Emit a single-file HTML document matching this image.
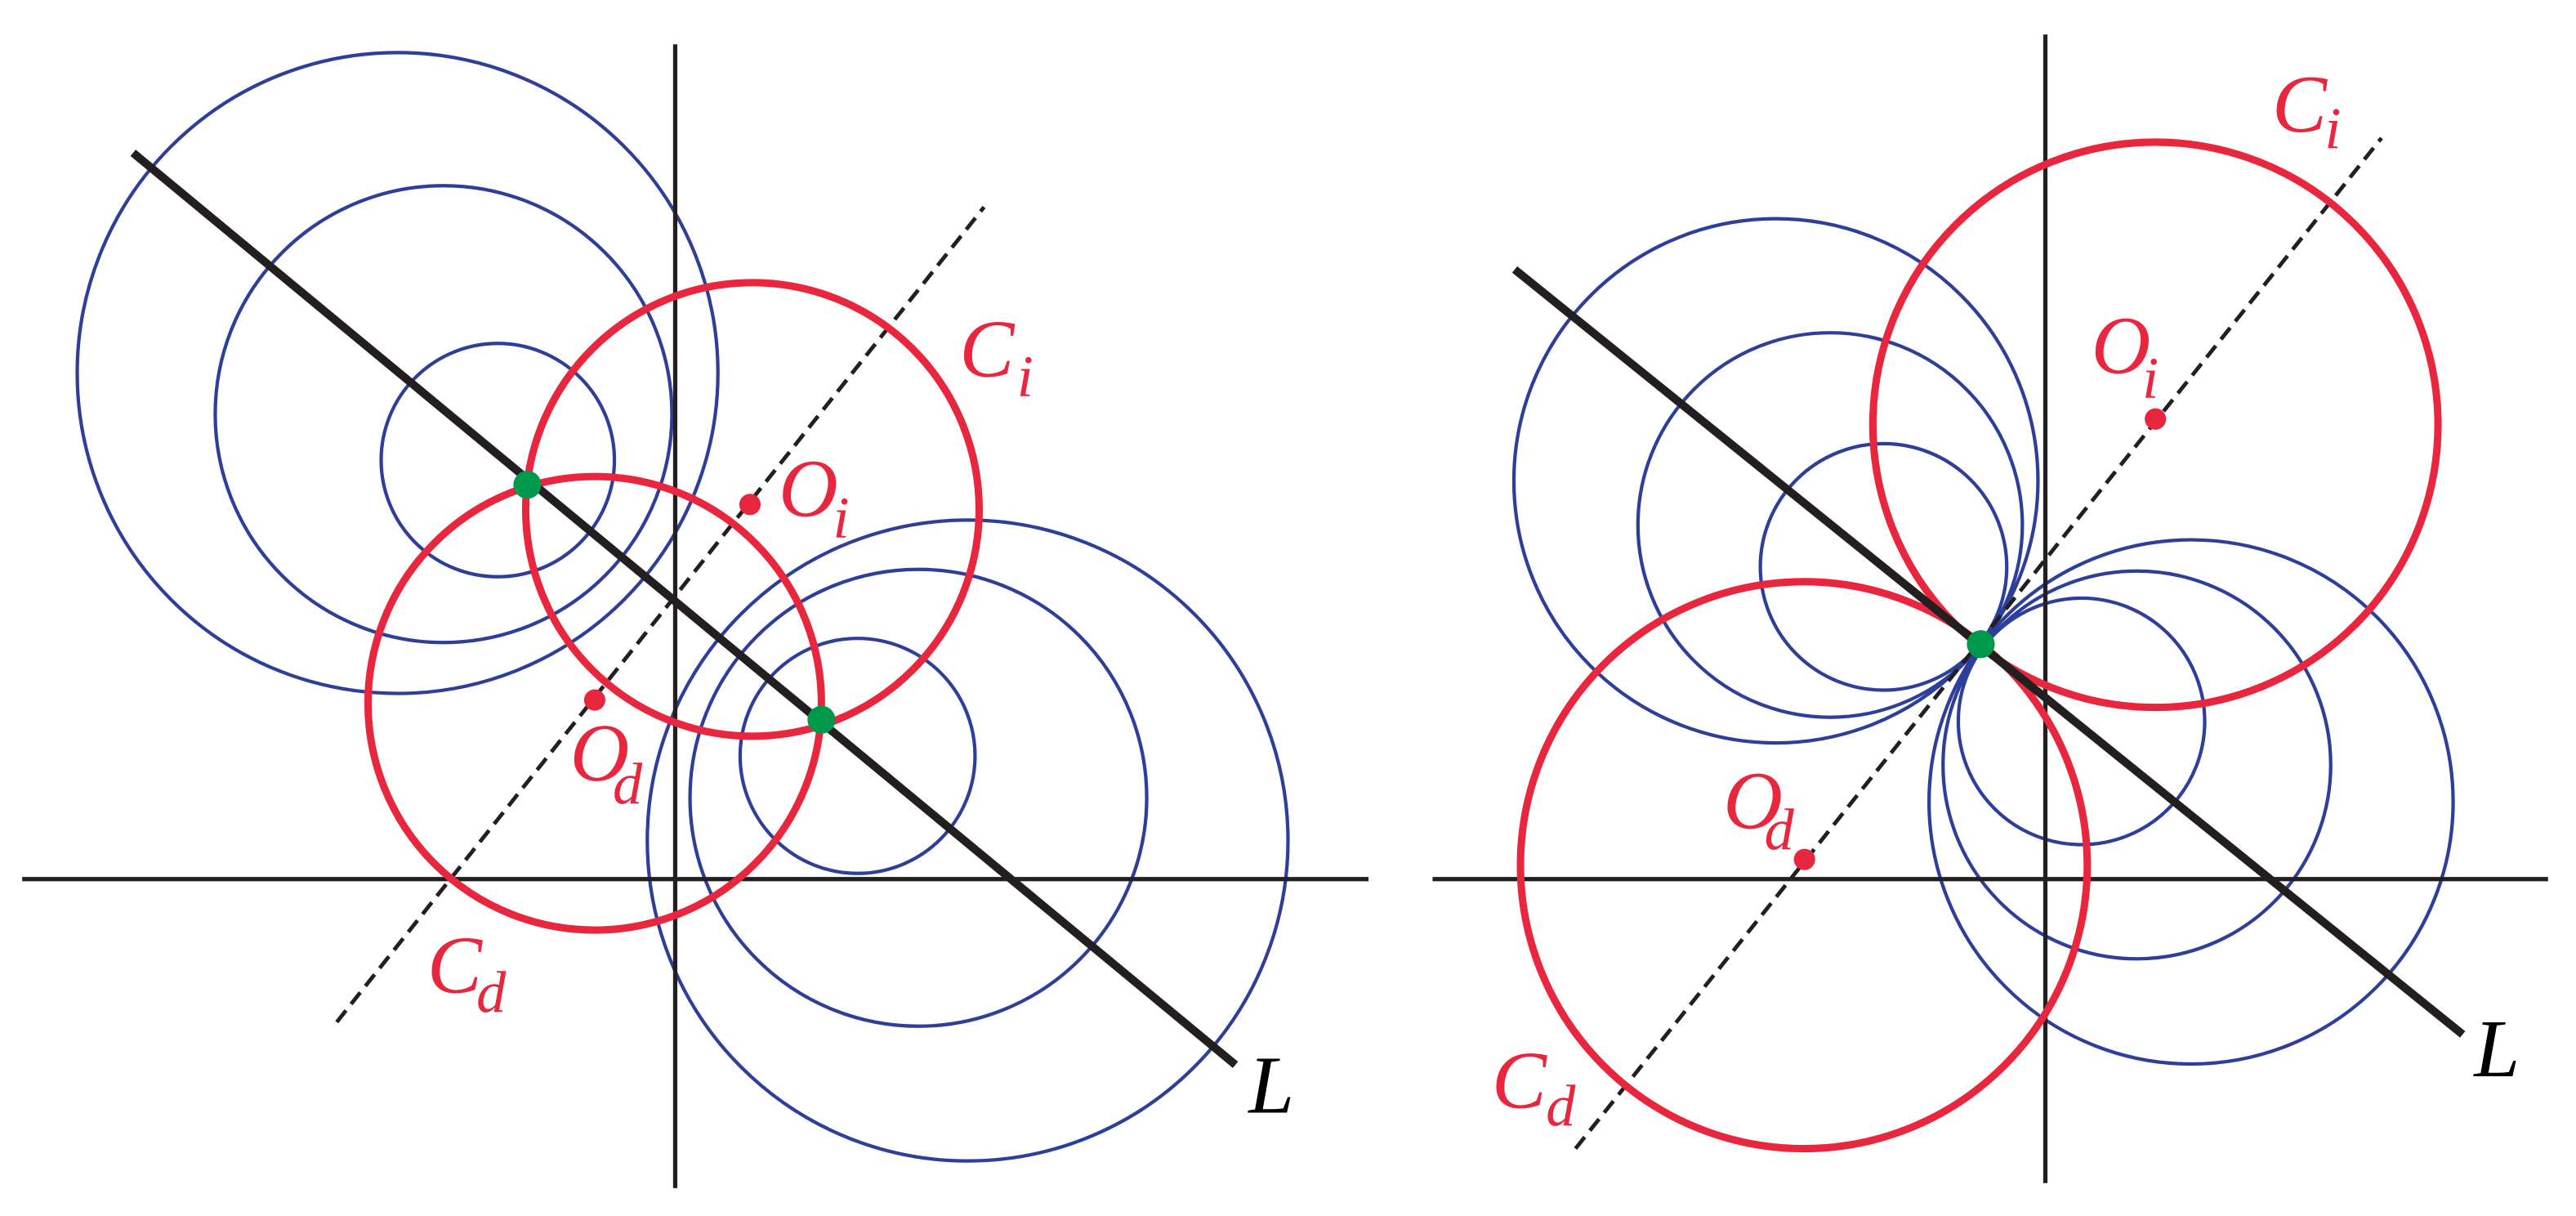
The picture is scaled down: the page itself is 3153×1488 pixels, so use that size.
<!DOCTYPE html>
<html><head><meta charset="utf-8"><style>
html,body{margin:0;padding:0;background:#fff;}
svg{display:block;}
</style></head><body>
<svg width="3153" height="1488" viewBox="0 0 1568 740" preserveAspectRatio="none" xmlns="http://www.w3.org/2000/svg">
<rect width="1568" height="740" fill="#fff"/>
<!-- LEFT PANEL -->
<g fill="none" stroke="#2e3f9a" stroke-width="2.1">
<circle cx="242" cy="227" r="195"/>
<circle cx="270" cy="252" r="139"/>
<circle cx="303" cy="280" r="71"/>
<circle cx="589" cy="511.5" r="195"/>
<circle cx="559" cy="485.5" r="139"/>
<circle cx="522" cy="460" r="71.5"/>
</g>
<g stroke="#231f20" stroke-width="2.6">
<line x1="411" y1="27" x2="411" y2="723"/>
<line x1="13.5" y1="535" x2="833" y2="535"/>
</g>
<line x1="205" y1="622" x2="599" y2="126" stroke="#231f20" stroke-width="2.4" stroke-dasharray="9,5"/>
<g fill="none" stroke="#e8273f" stroke-width="4.5">
<circle cx="458" cy="310" r="138"/>
<circle cx="362" cy="428" r="138"/>
</g>
<line x1="81" y1="93" x2="752" y2="648" stroke="#231f20" stroke-width="5"/>
<circle cx="321" cy="295" r="8.5" fill="#00994c"/>
<circle cx="500" cy="438" r="8.5" fill="#00994c"/>
<circle cx="456.5" cy="307" r="6.5" fill="#e8273f"/>
<circle cx="362" cy="426" r="6.5" fill="#e8273f"/>
<g fill="#e8273f" font-family="Liberation Serif, serif" font-style="italic">
<text x="584" y="229" font-size="50">C</text><text x="619" y="241" font-size="36">i</text>
<text x="474" y="314" font-size="50">O</text><text x="507" y="327" font-size="36">i</text>
<text x="347" y="475" font-size="50">O</text><text x="373" y="489" font-size="36">d</text>
<text x="260" y="604" font-size="50">C</text><text x="290" y="616" font-size="36">d</text>
</g>
<text x="760" y="677" font-size="50" fill="#000" font-family="Liberation Serif, serif" font-style="italic">L</text>

<!-- RIGHT PANEL -->
<g fill="none" stroke="#2e3f9a" stroke-width="2.1">
<circle cx="1081" cy="292.6" r="159.5"/>
<circle cx="1114" cy="319.5" r="117"/>
<circle cx="1146.5" cy="345" r="75"/>
<circle cx="1333.7" cy="488" r="159.5"/>
<circle cx="1300.7" cy="465.5" r="118"/>
<circle cx="1267" cy="439" r="75"/>
</g>
<g stroke="#231f20" stroke-width="2.6">
<line x1="1245" y1="21" x2="1245" y2="720"/>
<line x1="872" y1="535" x2="1551" y2="535"/>
</g>
<line x1="959" y1="699" x2="1449.6" y2="84" stroke="#231f20" stroke-width="2.4" stroke-dasharray="9,5"/>
<g fill="none" stroke="#e8273f" stroke-width="4.5">
<circle cx="1312" cy="258.5" r="172"/>
<circle cx="1098" cy="526.5" r="172.5"/>
</g>
<line x1="922" y1="164" x2="1499" y2="629.5" stroke="#231f20" stroke-width="5"/>
<circle cx="1205.7" cy="392" r="8.5" fill="#00994c"/>
<circle cx="1312" cy="255" r="6.5" fill="#e8273f"/>
<circle cx="1098.4" cy="523" r="6.5" fill="#e8273f"/>
<g fill="#e8273f" font-family="Liberation Serif, serif" font-style="italic">
<text x="1383" y="80" font-size="50">C</text><text x="1415" y="90" font-size="36">i</text>
<text x="1273" y="227" font-size="50">O</text><text x="1304" y="242" font-size="36">i</text>
<text x="1049" y="504" font-size="50">O</text><text x="1074" y="517" font-size="36">d</text>
<text x="908" y="674" font-size="50">C</text><text x="941" y="685" font-size="36">d</text>
</g>
<text x="1506" y="655" font-size="50" fill="#000" font-family="Liberation Serif, serif" font-style="italic">L</text>
</svg>
</body></html>
